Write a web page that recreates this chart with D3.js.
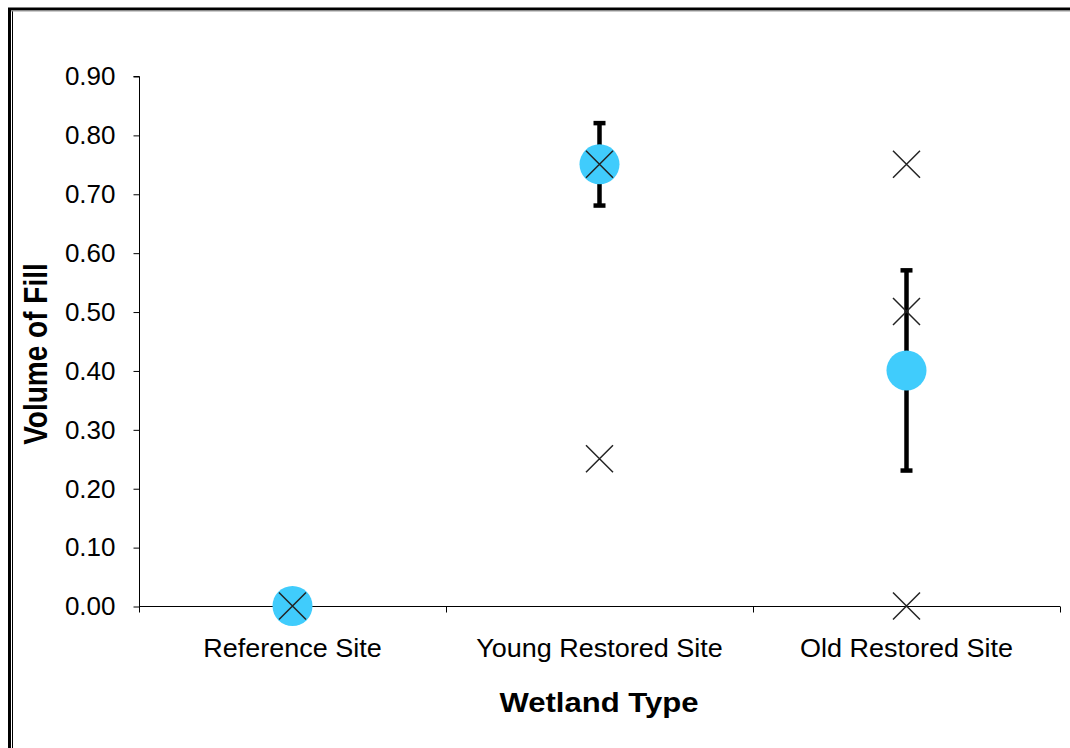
<!DOCTYPE html>
<html>
<head>
<meta charset="utf-8">
<script src="https://cdn.jsdelivr.net/npm/d3@7"></script>
<style>
  html, body { margin: 0; padding: 0; background: #fff; }
  svg { display: block; font-family: "Liberation Sans", Arial, sans-serif; }
</style>
</head>
<body>
<svg id="chart" width="1070" height="748"></svg>
<script>
// Wetland categories and summary values
const categories = ["Reference Site", "Young Restored Site", "Old Restored Site"];
const meanValues = [0.00, 0.75, 0.40];
const errLow = [0.00, 0.68, 0.23];
const errHigh = [0.00, 0.82, 0.57];
// Individual site observations (category index, value)
const obsCategory = [0, 1, 1, 2, 2, 2];
const obsValue = [0.00, 0.75, 0.25, 0.75, 0.50, 0.00];
const yTicks = [0, 0.1, 0.2, 0.3, 0.4, 0.5, 0.6, 0.7, 0.8, 0.9];

const svg = d3.select("#chart");

// Outer frame: heavy outer rule with a thin inner rule
svg.append("line").attr("x1", 9.5).attr("y1", 9).attr("x2", 9.5).attr("y2", 748)
  .attr("stroke", "#000").attr("stroke-width", 3);
svg.append("line").attr("x1", 12.5).attr("y1", 11).attr("x2", 12.5).attr("y2", 748)
  .attr("stroke", "#000").attr("stroke-width", 1);
svg.append("line").attr("x1", 8).attr("y1", 9).attr("x2", 1070).attr("y2", 9)
  .attr("stroke", "#000").attr("stroke-width", 3);
svg.append("line").attr("x1", 11).attr("y1", 11).attr("x2", 1070).attr("y2", 11)
  .attr("stroke", "#999").attr("stroke-width", 1);

const plotLeft = 139, plotRight = 1060, plotTop = 76, plotBottom = 606;

const y = d3.scaleLinear().domain([0, 0.9]).range([plotBottom, plotTop]);
const x = d3.scaleBand().domain(categories).range([plotLeft, plotRight]).padding(0);

// Y axis
const yAxis = d3.axisLeft(y).tickValues(yTicks).tickFormat(d3.format(".2f"))
  .tickSize(6).tickPadding(18);
const gy = svg.append("g").attr("transform", `translate(${plotLeft + 0.5},0.5)`).call(yAxis);
gy.select(".domain").attr("stroke", "#000").attr("d", `M-6,${plotTop}H0V${plotBottom}`);
gy.selectAll(".tick line").attr("stroke", "#000");
gy.selectAll(".tick text").attr("font-size", 26).attr("fill", "#000")
  .attr("font-family", "Liberation Sans, Arial, sans-serif");

// X axis with category separators
const gx = svg.append("g").attr("transform", `translate(0,${plotBottom + 0.5})`);
gx.append("line").attr("x1", plotLeft).attr("x2", plotRight).attr("stroke", "#000");
const bounds = [plotLeft].concat(categories.map(c => x(c) + x.bandwidth()));
gx.selectAll("line.sep").data(bounds).join("line").attr("class", "sep")
  .attr("x1", d => Math.round(d) + 0.5).attr("x2", d => Math.round(d) + 0.5)
  .attr("y1", 0).attr("y2", 6).attr("stroke", "#000");
gx.selectAll("text").data(categories).join("text")
  .attr("transform", d => `translate(${x(d) + x.bandwidth() / 2},50.5) scale(1.08,1)`)
  .attr("text-anchor", "middle").attr("font-size", 25).attr("fill", "#000")
  .text(d => d);

// Axis titles
svg.append("text").attr("transform", "translate(599,712) scale(1.11,1)")
  .attr("text-anchor", "middle")
  .attr("font-size", 28).attr("font-weight", "bold").text("Wetland Type");
svg.append("text").attr("transform", "translate(47,354) rotate(-90) scale(1,1.17)")
  .attr("text-anchor", "middle").attr("font-size", 28).attr("font-weight", "bold")
  .text("Volume of Fill");

const cx = i => x(categories[i]) + x.bandwidth() / 2;

// Error bars
const eb = svg.append("g");
categories.forEach((c, i) => {
  if (errHigh[i] === errLow[i]) return;
  eb.append("line").attr("x1", cx(i)).attr("x2", cx(i))
    .attr("y1", y(errHigh[i])).attr("y2", y(errLow[i]))
    .attr("stroke", "#000").attr("stroke-width", 4.5);
  [errHigh[i], errLow[i]].forEach(v => {
    eb.append("line").attr("x1", cx(i) - 6).attr("x2", cx(i) + 6)
      .attr("y1", y(v)).attr("y2", y(v))
      .attr("stroke", "#000").attr("stroke-width", 4.5);
  });
});

// Mean markers
svg.append("g").selectAll("circle").data(meanValues).join("circle")
  .attr("cx", (d, i) => cx(i)).attr("cy", d => y(d)).attr("r", 20)
  .attr("fill", "#40CCFC");

// Individual observations as crosses
const s = 13.5;
const obs = svg.append("g");
obsValue.forEach((v, k) => {
  const px = cx(obsCategory[k]), py = y(v);
  obs.append("path")
    .attr("d", `M${px - s},${py - s}L${px + s},${py + s}M${px - s},${py + s}L${px + s},${py - s}`)
    .attr("stroke", "#222").attr("stroke-width", 1.5).attr("fill", "none");
});
</script>
</body>
</html>
